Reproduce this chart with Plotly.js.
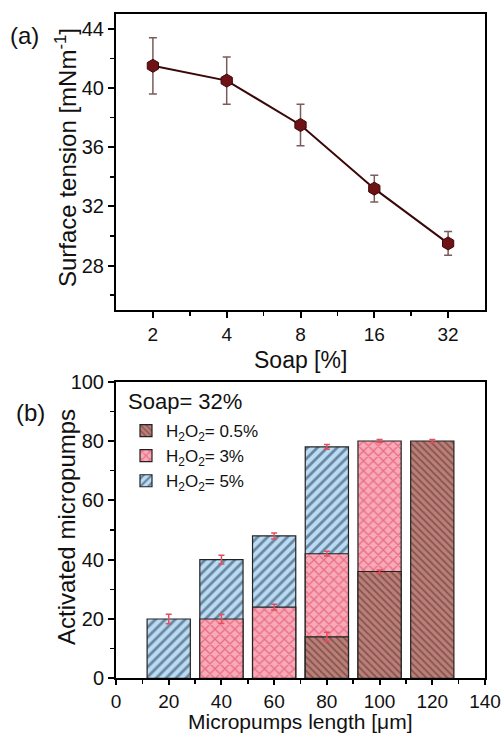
<!DOCTYPE html>
<html>
<head>
<meta charset="utf-8">
<script src="https://cdn.plot.ly/plotly-3.0.1.min.js"></script>
<style>html,body{margin:0;padding:0;background:#fff;}#chart{width:502px;height:735px;}</style>
</head>
<body>
<div id="chart"></div>
<script>
// (a) surface tension vs soap
const soap = [2, 4, 8, 16, 32];
const tension = [41.5, 40.5, 37.5, 33.2, 29.5];
const tensionErr = [1.9, 1.6, 1.4, 0.9, 0.8];
const soapTicks = [2, 4, 8, 16, 32];
const soapTickText = ['2', '4', '8', '16', '32'];

// (b) activated micropumps vs length
const lengths = [20, 40, 60, 80, 100, 120];
const h2o2_5 = [20, 40, 48, 78, null, null];
const h2o2_5Err = [1.6, 1.5, 1.0, 0.8, 0, 0];
const h2o2_3 = [null, 20, 24, 42, 80, null];
const h2o2_3Err = [0, 1.5, 1.0, 0.8, 0.5, 0];
const h2o2_05 = [null, null, null, 14, 36, 80];
const h2o2_05Err = [0, 0, 0, 1.5, 0.5, 0.5];

const FONT = 'Arial, "Liberation Sans", Helvetica, sans-serif';
const errCol = '#e0505e';

const traces = [
  {
    x: soap, y: tension, type: 'scatter', mode: 'lines+markers',
    xaxis: 'x', yaxis: 'y', showlegend: false,
    line: {color: '#3a0808', width: 2},
    marker: {symbol: 'hexagon', size: 13, color: '#6e1216', line: {color: '#3a0808', width: 1}},
    error_y: {type: 'data', array: tensionErr, visible: true, color: '#7a5c5c', thickness: 1.5, width: 4}
  },
  {
    x: lengths, y: h2o2_5, type: 'bar', name: 'H<sub>2</sub>O<sub>2</sub>= 5%',
    xaxis: 'x2', yaxis: 'y2', width: 16.4,
    marker: {color: '#b9dcf2', line: {color: '#222', width: 1.2},
      pattern: {shape: '/', bgcolor: '#b9dcf2', fgcolor: '#1d2f52', size: 7, solidity: 0.4, fillmode: 'overlay'}},
    error_y: {type: 'data', array: h2o2_5Err, visible: true, color: errCol, thickness: 1.5, width: 3}
  },
  {
    x: lengths, y: h2o2_3, type: 'bar', name: 'H<sub>2</sub>O<sub>2</sub>= 3%',
    xaxis: 'x2', yaxis: 'y2', width: 16.4,
    marker: {color: '#f9aab8', line: {color: '#222', width: 1.2},
      pattern: {shape: 'x', bgcolor: '#f9aab8', fgcolor: '#d8304e', size: 7, solidity: 0.35, fillmode: 'overlay'}},
    error_y: {type: 'data', array: h2o2_3Err, visible: true, color: errCol, thickness: 1.5, width: 3}
  },
  {
    x: lengths, y: h2o2_05, type: 'bar', name: 'H<sub>2</sub>O<sub>2</sub>= 0.5%',
    xaxis: 'x2', yaxis: 'y2', width: 16.4,
    marker: {color: '#b98078', line: {color: '#222', width: 1.2},
      pattern: {shape: '\\', bgcolor: '#b98078', fgcolor: '#5a2626', size: 5, solidity: 0.35, fillmode: 'overlay'}},
    error_y: {type: 'data', array: h2o2_05Err, visible: true, color: errCol, thickness: 1.5, width: 3}
  }
];

const axCommon = {
  showline: true, mirror: true, linecolor: '#000', linewidth: 2,
  ticks: 'outside', ticklen: 6, tickwidth: 2, tickcolor: '#000',
  showgrid: false, zeroline: false,
  tickfont: {family: FONT, size: 20, color: '#111'}
};

const layout = {
  width: 502, height: 735,
  margin: {l: 0, r: 0, t: 0, b: 0},
  paper_bgcolor: '#fff', plot_bgcolor: '#fff',
  font: {family: FONT, color: '#111'},
  barmode: 'overlay',
  xaxis: Object.assign({}, axCommon, {
    domain: [116/502, 485/502], anchor: 'y', type: 'log',
    range: [Math.log10(1.4142), Math.log10(45.25)],
    tickmode: 'array', tickvals: soapTicks, ticktext: soapTickText,
    tickfont: {family: FONT, size: 19, color: '#111'},
    minor: {tickmode: 'array', tickvals: [2.828, 5.657, 11.31, 22.63], ticks: 'outside', ticklen: 4, tickwidth: 1.5, tickcolor: '#000'}
  }),
  yaxis: Object.assign({}, axCommon, {
    domain: [(735-310)/735, (735-14)/735], anchor: 'x',
    range: [25, 45], tickmode: 'linear', tick0: 28, dtick: 4,
    minor: {dtick: 2, ticks: 'outside', ticklen: 4, tickwidth: 1.5, tickcolor: '#000'}
  }),
  xaxis2: Object.assign({}, axCommon, {
    domain: [116/502, 485/502], anchor: 'y2',
    range: [0, 140], tickmode: 'linear', tick0: 0, dtick: 20, ticklen: 5,
    tickfont: {family: FONT, size: 19, color: '#111'},
    minor: {dtick: 10, ticks: 'outside', ticklen: 4, tickwidth: 1.5, tickcolor: '#000'}
  }),
  yaxis2: Object.assign({}, axCommon, {
    domain: [(735-678.3)/735, (735-381.7)/735], anchor: 'x2',
    range: [0, 100], tickmode: 'linear', tick0: 0, dtick: 20,
    minor: {dtick: 10, ticks: 'outside', ticklen: 4, tickwidth: 1.5, tickcolor: '#000'}
  }),
  showlegend: true,
  legend: {
    x: 126/502, y: (735-413)/735, xanchor: 'left', yanchor: 'top',
    traceorder: 'reversed', bgcolor: 'rgba(0,0,0,0)',
    font: {family: FONT, size: 17, color: '#111'},
    itemwidth: 30, tracegroupgap: 0
  },
  annotations: [
    {text: 'Surface tension [mNm<sup>-1</sup>]', textangle: -90, xref: 'paper', yref: 'paper',
     x: 66/502, y: (735-158)/735, xanchor: 'center', yanchor: 'middle', showarrow: false,
     font: {family: FONT, size: 24, color: '#111'}},
    {text: 'Soap [%]', xref: 'paper', yref: 'paper', x: 300/502, y: (735-345)/735,
     xanchor: 'center', yanchor: 'top', showarrow: false, font: {family: FONT, size: 23, color: '#111'}},
    {text: '(a)', xref: 'paper', yref: 'paper', x: 24/502, y: (735-35)/735,
     xanchor: 'center', yanchor: 'middle', showarrow: false, font: {family: FONT, size: 24, color: '#111'}},
    {text: 'Activated micropumps', textangle: -90, xref: 'paper', yref: 'paper',
     x: 66/502, y: (735-527)/735, xanchor: 'center', yanchor: 'middle', showarrow: false,
     font: {family: FONT, size: 24, color: '#111'}},
    {text: 'Micropumps length [\u03bcm]', xref: 'paper', yref: 'paper', x: 300/502, y: 0,
     xanchor: 'center', yanchor: 'bottom', showarrow: false, font: {family: FONT, size: 21, color: '#111'}},
    {text: '(b)', xref: 'paper', yref: 'paper', x: 30/502, y: (735-412)/735,
     xanchor: 'center', yanchor: 'middle', showarrow: false, font: {family: FONT, size: 24, color: '#111'}},
    {text: 'Soap= 32%', xref: 'paper', yref: 'paper', x: 126/502, y: (735-401)/735,
     xanchor: 'left', yanchor: 'middle', showarrow: false, font: {family: FONT, size: 22, color: '#111'}}
  ]
};

Plotly.newPlot('chart', traces, layout, {displayModeBar: false, staticPlot: true});
</script>
</body>
</html>
